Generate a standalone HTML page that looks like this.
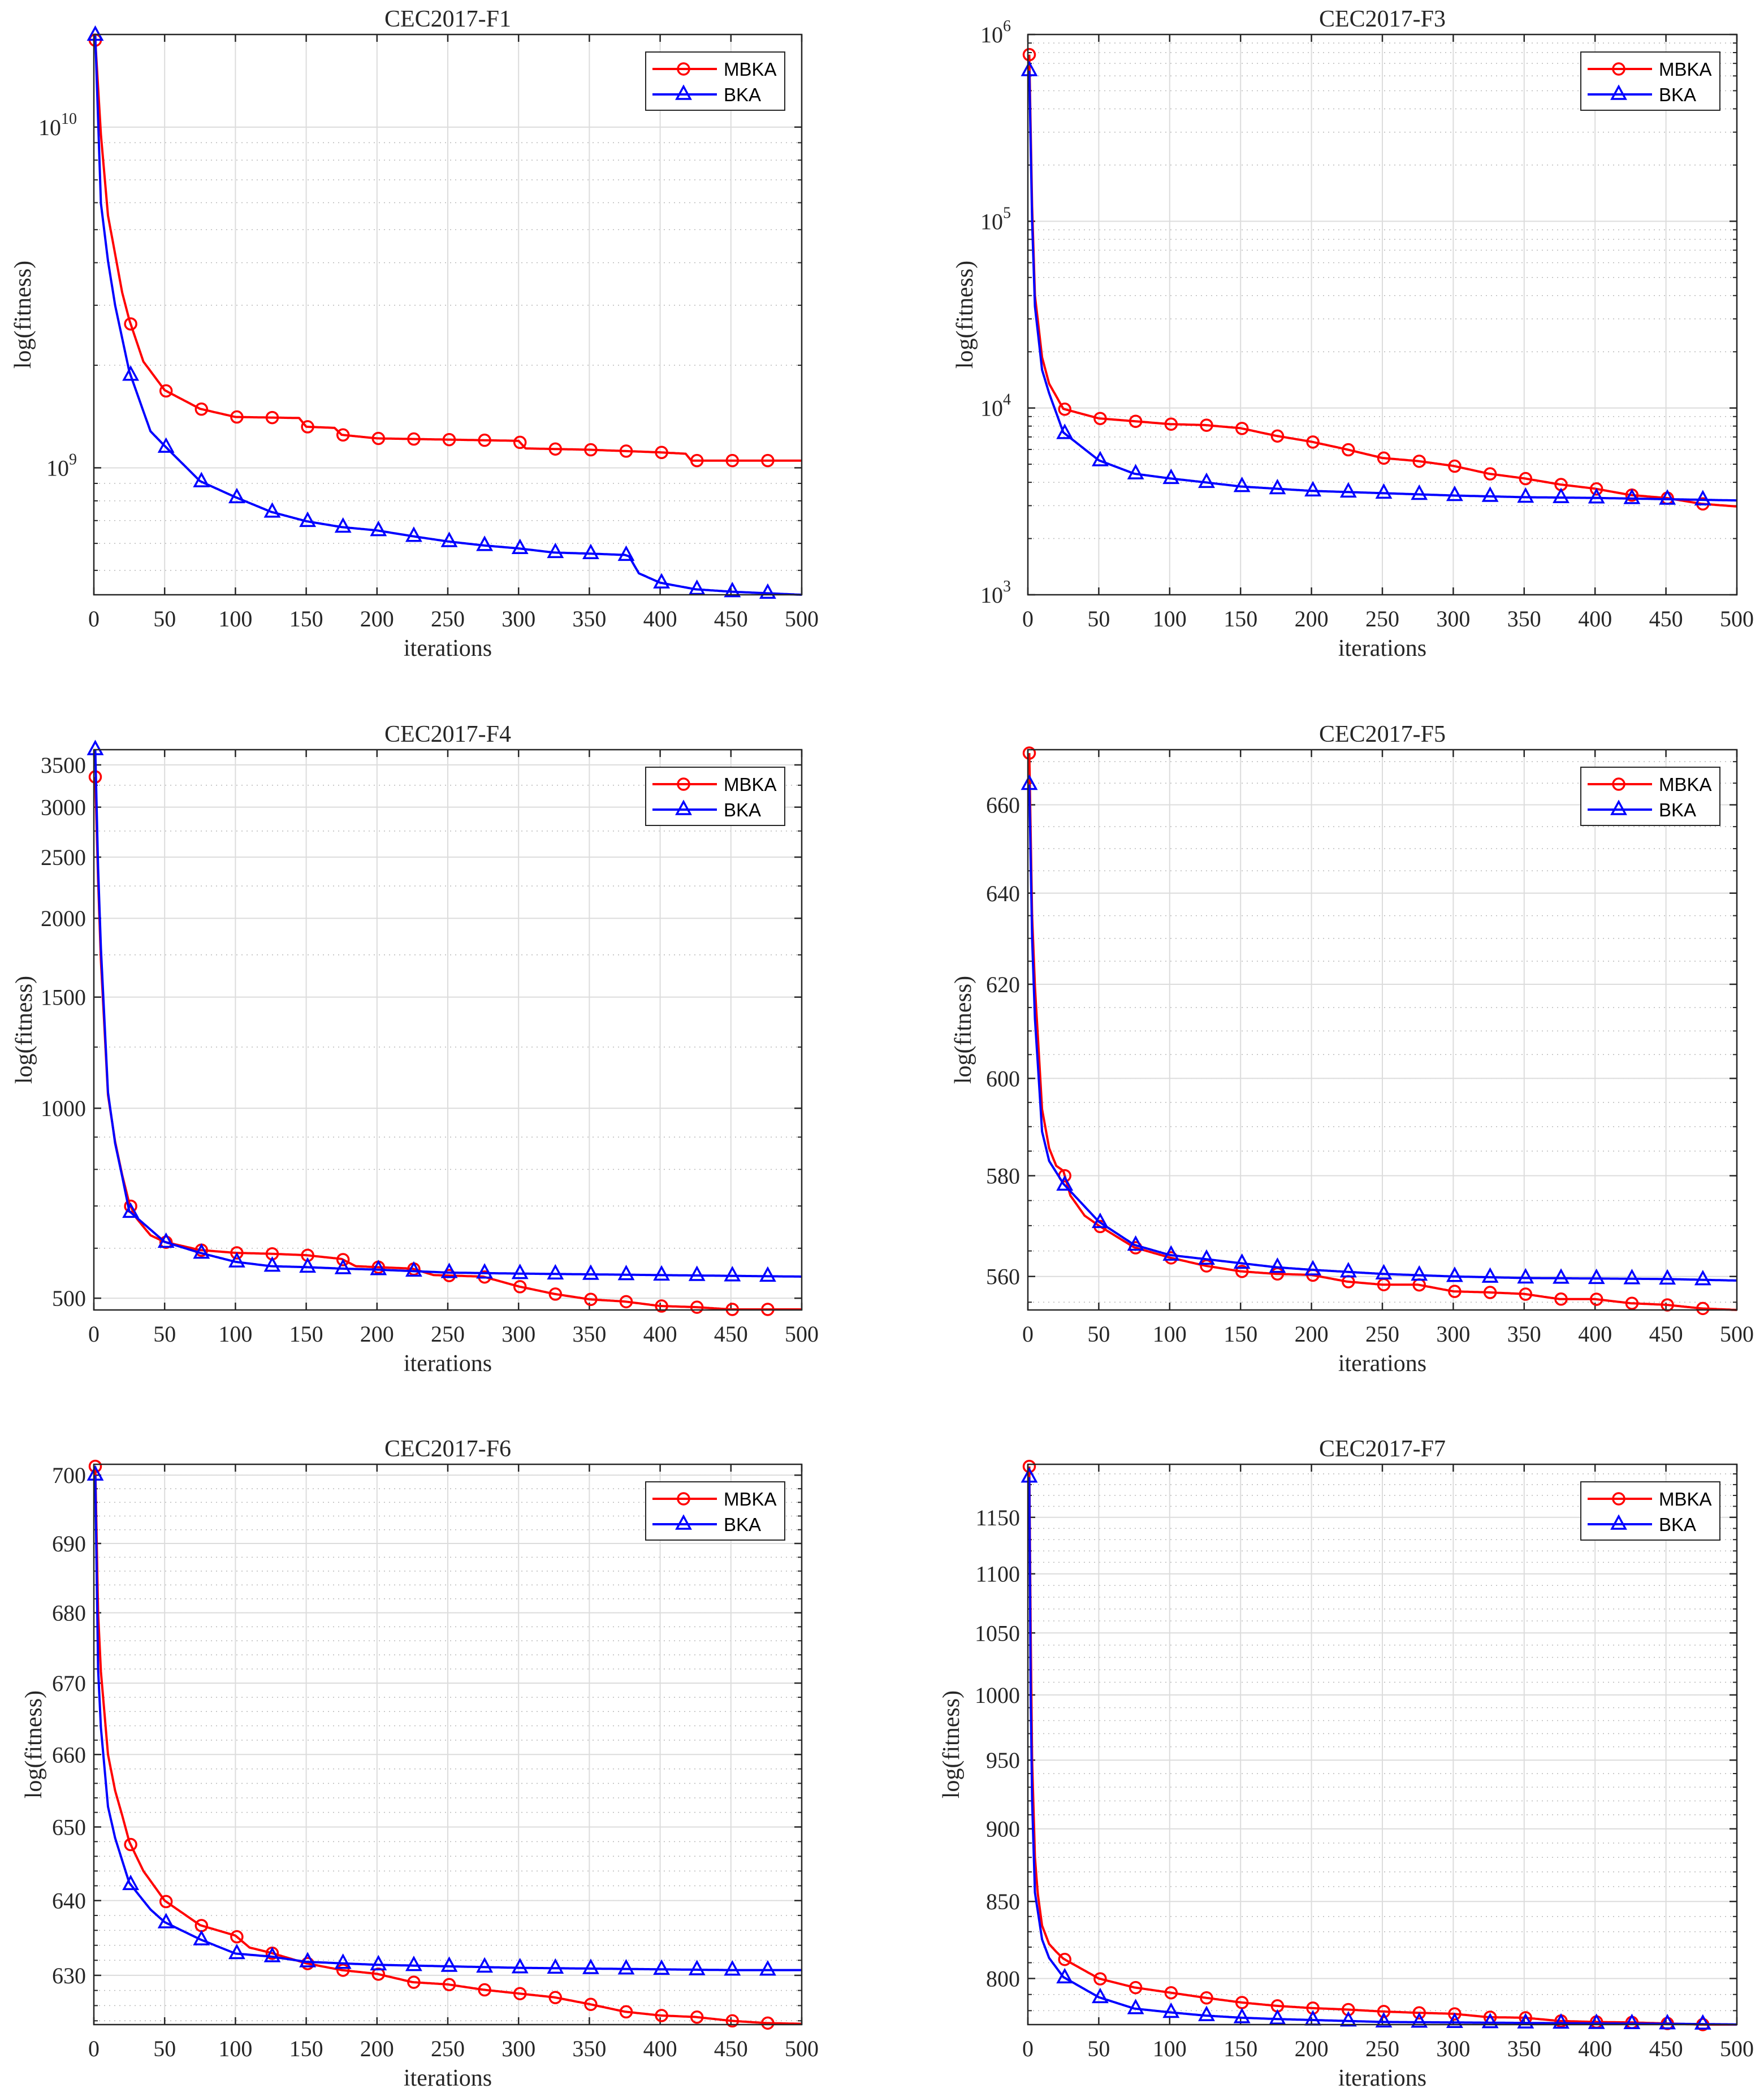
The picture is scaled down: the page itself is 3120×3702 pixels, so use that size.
<!DOCTYPE html>
<html><head><meta charset="utf-8">
<style>
html,body{margin:0;padding:0;background:#fff;}
svg{display:block;}
text{font-family:"Liberation Serif",serif;fill:#262626;}
.leg{font-family:"Liberation Sans",sans-serif;fill:#000;}
</style></head>
<body>
<svg id="fig" xmlns="http://www.w3.org/2000/svg" width="3120" height="3702" viewBox="0 0 3120 3702"></svg>
<script>
// ---- data ----
const iterTicks = [0,50,100,150,200,250,300,350,400,450,500];
const f1RedX = [1,5,10,20,25,35,50,75,100,145,150,170,175,200,250,300,305,350,400,418,422,500];
const f1Red = [1.8e10,9.5e9,5.5e9,3.27e9,2.72e9,2.05e9,1.69e9,1.49e9,1.41e9,1.40e9,1.32e9,1.31e9,1.25e9,1.22e9,1.21e9,1.20e9,1.14e9,1.13e9,1.11e9,1.10e9,1.05e9,1.05e9];
const f1BlueX = [1,5,10,15,25,40,50,75,100,125,150,175,200,225,250,275,300,325,350,375,378,385,400,425,450,500];
const f1Blue = [1.86e10,5.97e9,4.05e9,3.0e9,1.92e9,1.28e9,1.16e9,9.14e8,8.2e8,7.43e8,6.97e8,6.7e8,6.55e8,6.3e8,6.08e8,5.92e8,5.8e8,5.64e8,5.6e8,5.55e8,5.5e8,4.9e8,4.6e8,4.4e8,4.33e8,4.24e8];
const f1Ticks = [1e9,1e10];
const f1TickLabels = [["10","9"],["10","10"]];

const f3RedX = [1,3,5,10,15,25,50,75,100,125,150,175,200,225,250,275,300,325,350,375,400,425,450,475,500];
const f3Red = [7.8e5,1.2e5,4e4,1.87e4,1.35e4,9.9e3,8.8e3,8.5e3,8.2e3,8.1e3,7.8e3,7.1e3,6.6e3,6.0e3,5.4e3,5.2e3,4.9e3,4.45e3,4.2e3,3.9e3,3.7e3,3.42e3,3.3e3,3.07e3,2.97e3];
const f3BlueX = [1,3,5,10,15,25,50,75,100,125,150,200,250,300,350,400,450,500];
const f3Blue = [6.4e5,1e5,3.5e4,1.6e4,1.2e4,7.4e3,5.25e3,4.45e3,4.2e3,4.0e3,3.8e3,3.6e3,3.5e3,3.4e3,3.33e3,3.3e3,3.25e3,3.2e3];
const f3Ticks = [1e3,1e4,1e5,1e6];
const f3TickLabels = [["10","3"],["10","4"],["10","5"],["10","6"]];

const f4RedX = [1,3,5,10,15,20,25,30,40,50,75,100,125,150,175,185,200,225,240,275,300,325,350,375,400,425,450,500];
const f4Red = [3350,2300,1710,1050,885,784,707,670,629,614,596,590,588,585,577,562,560,557,544,541,522,508,498,494,486,484,480,480];
const f4BlueX = [1,3,5,10,15,20,25,50,75,100,125,150,175,200,250,300,500];
const f4Blue = [3700,2400,1790,1060,880,780,687,614,590,571,562,560,557,555,549,547,541];
const f4Ticks = [500,1000,1500,2000,2500,3000,3500];
const f4TickLabels = ["500","1000","1500","2000","2500","3000","3500"];

const f5RedX = [1,3,5,10,15,20,25,30,40,50,75,100,125,150,175,200,225,250,275,300,325,350,375,400,425,450,475,500];
const f5Red = [672,635,619.5,593.6,585.6,582,581,576,572,570,565.7,563.7,562.1,561,560.5,560.3,559,558.4,558.4,557.1,556.9,556.6,555.6,555.6,554.8,554.5,553.8,553.5];
const f5BlueX = [1,3,5,10,15,25,50,75,100,125,150,175,200,250,300,350,400,450,500];
const f5Blue = [664.7,630,612.6,589,583,578.4,570.8,566.2,564.2,563.4,562.6,561.8,561.3,560.5,560,559.7,559.6,559.5,559.2];
const f5Ticks = [560,580,600,620,640,660];
const f5TickLabels = ["560","580","600","620","640","660"];

const f6RedX = [1,3,5,10,15,20,25,35,50,75,100,110,125,150,175,200,225,250,275,300,325,350,375,400,425,450,475,500];
const f6Red = [701.3,680,671.6,660,655,651.6,648,644,640,636.7,635.3,633.7,633,631.6,630.7,630.2,629.1,628.8,628.1,627.6,627.1,626.2,625.2,624.7,624.5,624,623.7,623.6];
const f6BlueX = [1,3,5,10,15,25,40,50,75,100,125,150,175,200,250,300,350,400,450,500];
const f6Blue = [700,672,663.7,652.8,648.5,642.4,638.8,637.1,634.8,632.9,632.5,631.8,631.6,631.4,631.2,631,630.9,630.8,630.7,630.7];
const f6Ticks = [630,640,650,660,670,680,690,700];
const f6TickLabels = ["630","640","650","660","670","680","690","700"];

const f7RedX = [1,2,3,5,7,10,15,20,25,50,75,100,125,150,175,200,225,250,275,300,325,350,375,400,425,450,475,500];
const f7Red = [1197,1050,950,880,855,834,822,817,812.6,800,794.4,791.2,788,785.1,783,781.6,780.7,779.5,778.7,778.1,776,775.7,773.7,773.1,772.8,772.2,771.5,771.5];
const f7BlueX = [1,2,3,5,10,15,25,50,75,100,125,150,175,200,250,300,350,400,450,500];
const f7Blue = [1187,1000,920,856,825,813,800.9,788.3,781.3,779,777,775.7,774.9,774.3,773.1,772.8,772.5,772.2,772,771.6];
const f7Ticks = [800,850,900,950,1000,1050,1100,1150];
const f7TickLabels = ["800","850","900","950","1000","1050","1100","1150"];

function range(a,b,s){const r=[];for(let v=a;v<=b+1e-9;v+=s)r.push(v);return r;}
function decMinors(lo,hi){const r=[];for(let e=lo;e<hi;e++)for(let k=2;k<=9;k++)r.push(k*Math.pow(10,e));return r;}

const charts = [
 {id:"f1",title:"CEC2017-F1",col:0,row:0,ymin:4.24e8,ymax:1.87e10,ticks:f1Ticks,labels:f1TickLabels,minors:decMinors(8,10),rx:f1RedX,ry:f1Red,bx:f1BlueX,by:f1Blue,ylx:40},
 {id:"f3",title:"CEC2017-F3",col:1,row:0,ymin:1e3,ymax:1e6,ticks:f3Ticks,labels:f3TickLabels,minors:decMinors(3,6),rx:f3RedX,ry:f3Red,bx:f3BlueX,by:f3Blue,ylx:1706},
 {id:"f4",title:"CEC2017-F4",col:0,row:1,ymin:479,ymax:3700,ticks:f4Ticks,labels:f4TickLabels,minors:[600,700,800,900,1250,1750,2250,2750,3250],rx:f4RedX,ry:f4Red,bx:f4BlueX,by:f4Blue,ylx:42},
 {id:"f5",title:"CEC2017-F5",col:1,row:1,ymin:553.5,ymax:672.8,ticks:f5Ticks,labels:f5TickLabels,minors:range(555,670,5),rx:f5RedX,ry:f5Red,bx:f5BlueX,by:f5Blue,ylx:1703},
 {id:"f6",title:"CEC2017-F6",col:0,row:2,ymin:623.5,ymax:701.6,ticks:f6Ticks,labels:f6TickLabels,minors:range(624,700,2),rx:f6RedX,ry:f6Red,bx:f6BlueX,by:f6Blue,ylx:59},
 {id:"f7",title:"CEC2017-F7",col:1,row:2,ymin:771.5,ymax:1199,ticks:f7Ticks,labels:f7TickLabels,minors:range(780,1190,10),rx:f7RedX,ry:f7Red,bx:f7BlueX,by:f7Blue,ylx:1682}
];

const NS="http://www.w3.org/2000/svg";
const fig=document.getElementById('fig');
function el(tag,attrs,parent){const e=document.createElementNS(NS,tag);for(const k in attrs)e.setAttribute(k,attrs[k]);(parent||fig).appendChild(e);return e;}
function interp(xs,ys,x){
  if(x<=xs[0])return ys[0];
  for(let i=1;i<xs.length;i++){if(x<=xs[i]){const t=(x-xs[i-1])/(xs[i]-xs[i-1]);return Math.exp(Math.log(ys[i-1])+t*(Math.log(ys[i])-Math.log(ys[i-1])));}}
  return ys[ys.length-1];
}

const colX=[[166,1418],[1818,3072]];
const rowY=[[61,1052],[1326,2317],[2590,3581]];

charts.forEach(c=>{
  const [x0,x1]=colX[c.col],[y0,y1]=rowY[c.row];
  const sx=v=>x0+(v/500)*(x1-x0);
  const ly0=Math.log10(c.ymin),ly1=Math.log10(c.ymax);
  const sy=v=>y1-(Math.log10(v)-ly0)/(ly1-ly0)*(y1-y0);
  const g=el('g',{});
  
  
  // minor grid
  c.minors.forEach(v=>{ if(v<=c.ymin||v>=c.ymax)return; const y=sy(v);
    const l=el('line',{x1:x0,x2:x1,y1:y,y2:y,stroke:'#b8b8b8','stroke-width':1.5,'stroke-dasharray':'2 7'},g);
    
    
    el('line',{x1:x0,x2:x0+7,y1:y,y2:y,stroke:'#262626','stroke-width':2},g);
    el('line',{x1:x1,x2:x1-7,y1:y,y2:y,stroke:'#262626','stroke-width':2},g);
  });
  // major grid y
  c.ticks.forEach((v,i)=>{ const y=sy(v);
    const l=el('line',{x1:x0,x2:x1,y1:y,y2:y,stroke:'#dcdcdc','stroke-width':2},g);
    
    
    el('line',{x1:x0,x2:x0+13,y1:y,y2:y,stroke:'#262626','stroke-width':2.5},g);
    el('line',{x1:x1,x2:x1-13,y1:y,y2:y,stroke:'#262626','stroke-width':2.5},g);
    const lab=c.labels[i];
    let t;
    if(Array.isArray(lab)){
      t=el('text',{x:x0-14,y:y+14,'text-anchor':'end','font-size':40},g);
      t.textContent=lab[0];
      const s=el('tspan',{dy:-20,'font-size':28},t); s.textContent=lab[1];
      t.setAttribute('text-anchor','end');
      t.setAttribute('x',x0-30);
    } else {
      t=el('text',{x:x0-14,y:y+14,'text-anchor':'end','font-size':40},g);
      t.textContent=lab;
    }
    
    
  });
  // x grid & ticks
  iterTicks.forEach(v=>{ const x=sx(v);
    const l=el('line',{x1:x,x2:x,y1:y0,y2:y1,stroke:'#dcdcdc','stroke-width':2},g);
    
    
    el('line',{x1:x,x2:x,y1:y1,y2:y1-13,stroke:'#262626','stroke-width':2.5},g);
    el('line',{x1:x,x2:x,y1:y0,y2:y0+13,stroke:'#262626','stroke-width':2.5},g);
    const t=el('text',{x:x,y:y1+56,'text-anchor':'middle','font-size':40},g);
    t.textContent=String(v);
    
    
  });
  // series
  const series=[{xs:c.rx,ys:c.ry,col:'#ff0000',m:'circle',n:'mbka'},{xs:c.bx,ys:c.by,col:'#0000ff',m:'tri',n:'bka'}];
  series.forEach(s=>{
    const pts=[];
    for(let it=1;it<=500;it+=1){pts.push(sx(it).toFixed(1)+','+sy(interp(s.xs,s.ys,it)).toFixed(1));}
    const p=el('polyline',{points:pts.join(' '),fill:'none',stroke:s.col,'stroke-width':4,'stroke-linejoin':'round'},g);
    
    
    for(let it=1;it<=476;it+=25){
      const x=sx(it),y=sy(interp(s.xs,s.ys,it));
      let mk;
      if(s.m==='circle') mk=el('circle',{cx:x,cy:y,r:10,fill:'none',stroke:s.col,'stroke-width':3.5},g);
      else mk=el('polygon',{points:`${x},${y-14} ${x-12},${y+8} ${x+12},${y+8}`,fill:'none',stroke:s.col,'stroke-width':3.5},g);
      
      
    }
  });
  // axes box
  const b=el('rect',{x:x0,y:y0,width:x1-x0,height:y1-y0,fill:'none',stroke:'#262626','stroke-width':2.5},g);
  
  
  // title
  const tt=el('text',{x:(x0+x1)/2,y:y0-14,'text-anchor':'middle','font-size':42,fill:'#000'},g);
  tt.textContent=c.title;
  
  
  const xl=el('text',{x:(x0+x1)/2,y:y1+108,'text-anchor':'middle','font-size':42},g);
  xl.textContent='iterations';
  
  
  const yc=(y0+y1)/2;
  const yl=el('text',{x:c.ylx,y:yc,'text-anchor':'middle','font-size':42,transform:`rotate(-90 ${c.ylx} ${yc})`,dy:14},g);
  yl.textContent='log(fitness)';
  
  
  // legend
  const lx=x1-276,ly=y0+31;
  const lg=el('g',{},g);
  
  
  el('rect',{x:lx,y:ly,width:246,height:103,fill:'#fff',stroke:'#262626','stroke-width':2},lg);
  el('line',{x1:lx+12,x2:lx+126,y1:ly+30,y2:ly+30,stroke:'#ff0000','stroke-width':4},lg);
  el('circle',{cx:lx+67,cy:ly+30,r:10,fill:'none',stroke:'#ff0000','stroke-width':3.5},lg);
  el('line',{x1:lx+12,x2:lx+126,y1:ly+75,y2:ly+75,stroke:'#0000ff','stroke-width':4},lg);
  el('polygon',{points:`${lx+67},${ly+61} ${lx+55},${ly+83} ${lx+79},${ly+83}`,fill:'none',stroke:'#0000ff','stroke-width':3.5},lg);
  const t1=el('text',{x:lx+138,y:ly+42,'font-size':33,class:'leg'},lg); t1.textContent='MBKA';
  
  
  const t2=el('text',{x:lx+138,y:ly+87,'font-size':33,class:'leg'},lg); t2.textContent='BKA';
  
  
});
</script>
</body></html>
